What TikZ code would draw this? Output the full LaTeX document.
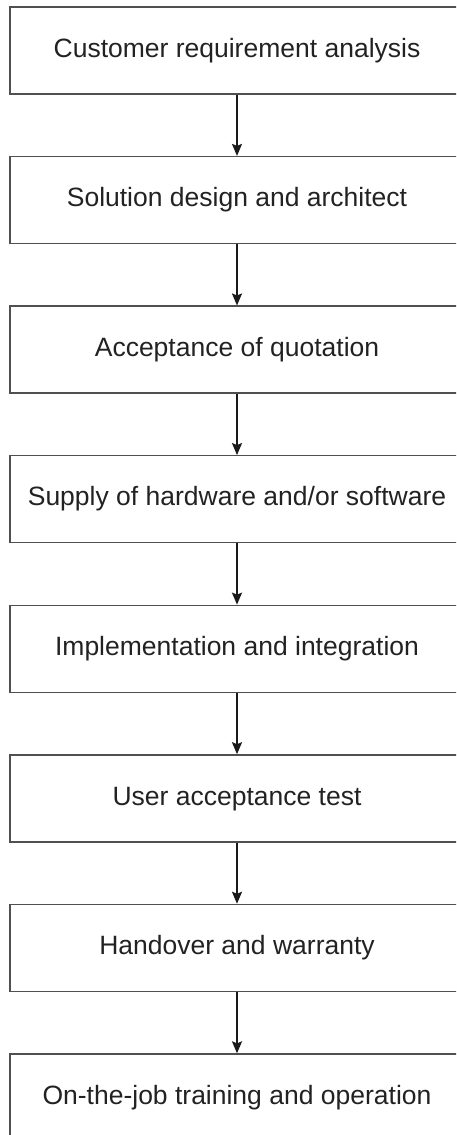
\documentclass[tikz,border=0pt]{standalone}
\usepackage{fontspec}
\setmainfont{Liberation Sans}
\usetikzlibrary{arrows.meta}
\definecolor{boxline}{HTML}{505050}
\definecolor{txt}{HTML}{222222}
\definecolor{arr}{HTML}{1A1A1A}
\tikzset{
  stepbox/.style={draw=boxline, line width=1.3pt, minimum width=454pt, minimum height=87pt,
    inner sep=0pt, text=txt, font=\fontsize{26.5pt}{30pt}\selectfont,
    text height=19pt, text depth=5.6pt},
  flowarrow/.style={draw=arr, line width=1.7pt, -{Stealth[length=12pt,width=10pt,inset=2pt]}}
}
\begin{document}
\begin{tikzpicture}[x=1pt,y=1pt]
\path[use as bounding box, clip] (0,0) rectangle (456,-1135);
\node[stepbox] (b1) at (237,{-50.5-0*149.57}) {Customer requirement analysis};
\node[stepbox] (b2) at (237,{-50.5-1*149.57}) {Solution design and architect};
\node[stepbox] (b3) at (237,{-50.5-2*149.57}) {Acceptance of quotation};
\node[stepbox] (b4) at (237,{-50.5-3*149.57}) {Supply of hardware and/or software};
\node[stepbox] (b5) at (237,{-50.5-4*149.57}) {Implementation and integration};
\node[stepbox] (b6) at (237,{-50.5-5*149.57}) {User acceptance test};
\node[stepbox] (b7) at (237,{-50.5-6*149.57}) {Handover and warranty};
\node[stepbox] (b8) at (237,{-50.5-7*149.57}) {On-the-job training and operation};
\draw[flowarrow] (b1.south) -- (b2.north);
\draw[flowarrow] (b2.south) -- (b3.north);
\draw[flowarrow] (b3.south) -- (b4.north);
\draw[flowarrow] (b4.south) -- (b5.north);
\draw[flowarrow] (b5.south) -- (b6.north);
\draw[flowarrow] (b6.south) -- (b7.north);
\draw[flowarrow] (b7.south) -- (b8.north);
\end{tikzpicture}
\end{document}
